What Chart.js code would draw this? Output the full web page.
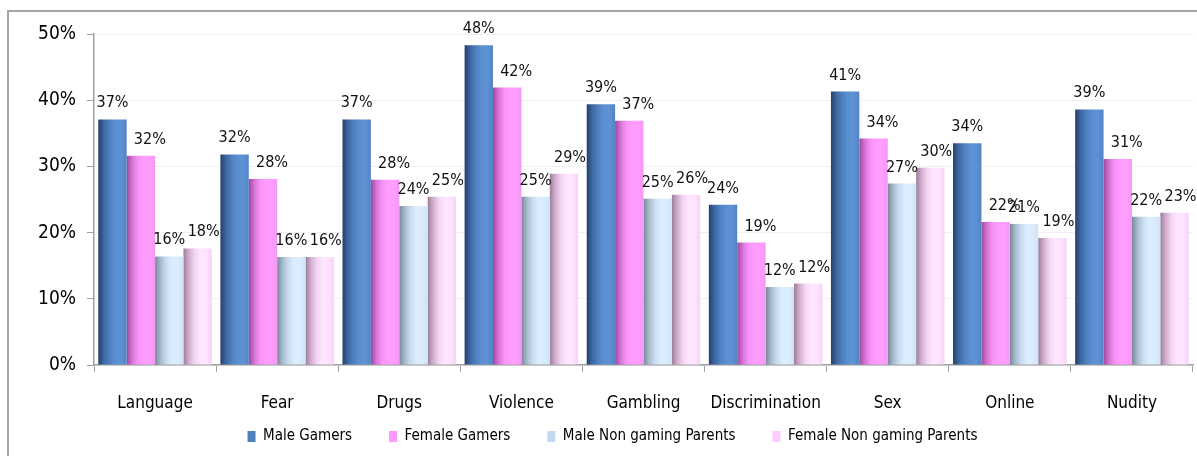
<!DOCTYPE html>
<html>
<head>
<meta charset="utf-8">
<script src="https://cdn.jsdelivr.net/npm/chart.js@4/dist/chart.umd.min.js"></script>
<style>
  html, body { margin: 0; padding: 0; background: #fff; overflow: hidden; }
  #frame { position: absolute; left: 7px; top: 10px; width: 1300px; height: 600px;
           border-left: 2px solid #a6a6a6; border-top: 2px solid #a6a6a6; }
  #wrap { position: absolute; left: 0; top: 0; width: 1197px; height: 456px; }
</style>
</head>
<body>
<div id="frame"></div>
<div id="wrap"><canvas id="chart" width="1197" height="456"></canvas></div>
<script>
const categories = ["Language", "Fear", "Drugs", "Violence", "Gambling", "Discrimination", "Sex", "Online", "Nudity"];
const seriesNames = ["Male Gamers", "Female Gamers", "Male Non gaming Parents", "Female Non gaming Parents"];
const maleGamers = [37.1, 31.8, 37.1, 48.3, 39.4, 24.2, 41.3, 33.5, 38.6];
const femaleGamers = [31.6, 28.1, 28.0, 41.9, 36.9, 18.5, 34.2, 21.6, 31.1];
const maleParents = [16.4, 16.3, 24.0, 25.4, 25.1, 11.8, 27.4, 21.3, 22.4];
const femaleParents = [17.6, 16.3, 25.4, 28.9, 25.7, 12.3, 29.8, 19.2, 23.0];
const yTicks = [0, 10, 20, 30, 40, 50];

const legendColors = ["#4f81bd", "#ff99ff", "#c6d9f1", "#ffccff"];
const barShades = [
  ["#243f68", "#3d68a3", "#4f80c0", "#5b8fd2", "#5e92d4", "#5383c4"],
  ["#9a4a9a", "#d874d8", "#f892f8", "#ff9cff", "#ff9eff", "#f596f5"],
  ["#7a8898", "#a9bbcf", "#c9dcf0", "#dcedff", "#dbecff", "#cfe2f7"],
  ["#9c7e98", "#d4b0d0", "#f4d6f2", "#ffe6ff", "#ffe4ff", "#f7d2f5"]
];
const labelShift = [0, 9, 0, 6];

const values = [maleGamers, femaleGamers, maleParents, femaleParents];

// cylinder-like shading, built once the bars know where they are
const shadeBars = {
  id: "shadeBars",
  beforeDatasetsDraw(chart) {
    const c = chart.ctx;
    chart.data.datasets.forEach((ds, di) => {
      chart.getDatasetMeta(di).data.forEach(bar => {
        const left = bar.x - bar.width / 2;
        const g = c.createLinearGradient(left, 0, left + bar.width, 0);
        const stops = barShades[di];
        stops.forEach((col, k) => g.addColorStop(k / (stops.length - 1), col));
        bar.options.backgroundColor = g;
      });
    });
  }
};

const valueLabels = {
  id: "valueLabels",
  afterDatasetsDraw(chart) {
    const c = chart.ctx;
    c.save();
    c.font = "16px 'DejaVu Sans Condensed'";
    c.fillStyle = "#111";
    c.textAlign = "center";
    c.textBaseline = "alphabetic";
    chart.data.datasets.forEach((ds, di) => {
      chart.getDatasetMeta(di).data.forEach((bar, i) => {
        c.fillText(Math.round(ds.data[i]) + "%", bar.x + labelShift[di], bar.y - 12);
      });
    });
    c.restore();
  }
};

// legend sits a bit right of centre; category labels may run into the legend's padding
const layoutTweaks = {
  id: "layoutTweaks",
  afterLayout(chart) {
    chart.legend.left += 9;
    chart.legend.right += 9;
    chart.scales.x.bottom += 24;
  }
};

new Chart(document.getElementById("chart"), {
  type: "bar",
  data: {
    labels: categories,
    datasets: seriesNames.map((name, di) => ({
      label: name,
      data: values[di],
      backgroundColor: () => legendColors[di],
      borderWidth: 0,
      barPercentage: 1.0,
      categoryPercentage: 0.93
    }))
  },
  options: {
    responsive: false,
    animation: false,
    layout: { padding: { left: 14, right: 4, top: 34, bottom: 2 } },
    plugins: {
      tooltip: { enabled: false },
      legend: {
        position: "bottom",
        labels: {
          color: "#000",
          font: { family: "'DejaVu Sans Condensed'", size: 15 },
          boxWidth: 8,
          boxHeight: 11,
          padding: 37,
          generateLabels(chart) {
            return seriesNames.map((name, di) => ({
              text: name, fillStyle: legendColors[di], strokeStyle: legendColors[di],
              lineWidth: 0, datasetIndex: di, fontColor: "#000"
            }));
          }
        }
      }
    },
    scales: {
      x: {
        grid: { display: true, drawOnChartArea: false, tickLength: 7, tickColor: "#a0a0a0", offset: true },
        border: { color: "#a0a0a0", width: 1.5 },
        ticks: { color: "#000", font: { family: "'DejaVu Sans Condensed'", size: 17 }, padding: 21, maxRotation: 0 },
        afterFit(scale) { scale.height = 27; }
      },
      y: {
        min: 0,
        max: 50,
        afterBuildTicks(scale) { scale.ticks = yTicks.map(v => ({ value: v })); },
        grid: { color: "#f0f0f0", tickLength: 7, tickColor: "#a0a0a0" },
        border: { color: "#a0a0a0", width: 1.5 },
        ticks: {
          color: "#000",
          font: { family: "'DejaVu Sans Condensed'", size: 19 },
          padding: 11,
          callback: v => v + "%"
        },
        afterFit(scale) { scale.width = 80; }
      }
    }
  },
  plugins: [shadeBars, valueLabels, layoutTweaks]
});
</script>
</body>
</html>
